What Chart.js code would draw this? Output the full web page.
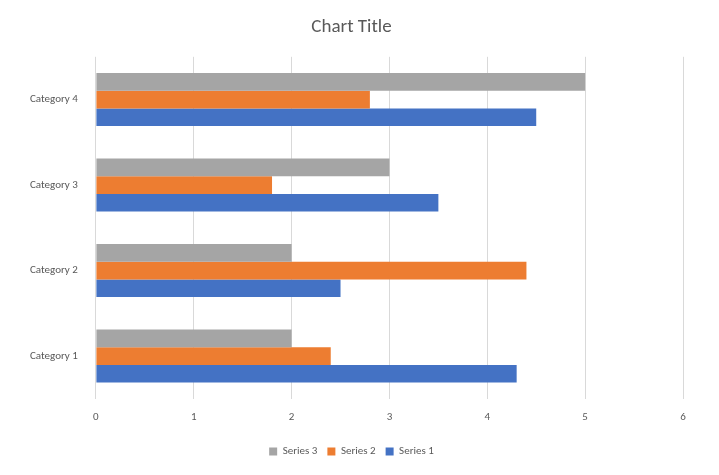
<!DOCTYPE html>
<html><head><meta charset="utf-8">
<script src="https://cdn.jsdelivr.net/npm/chart.js@4"></script>
<style>html,body{margin:0;padding:0;background:#fff}#w{width:719px;height:475px}</style>
</head><body><div id="w"><canvas id="c"></canvas></div>
<script>
const categories = ["Category 1","Category 2","Category 3","Category 4"];
const series1 = [4.3, 2.5, 3.5, 4.5];
const series2 = [2.4, 4.4, 1.8, 2.8];
const series3 = [2, 2, 3, 5];
const xTicks = [0,1,2,3,4,5,6];
Chart.defaults.font.family = "Calibri, Carlito, 'Liberation Sans', sans-serif";
Chart.defaults.color = "#595959";
new Chart(document.getElementById('c'), {
  type: 'bar',
  data: {
    labels: categories,
    datasets: [
      {label:'Series 3', data:series3, backgroundColor:'#a5a5a5'},
      {label:'Series 2', data:series2, backgroundColor:'#ed7d31'},
      {label:'Series 1', data:series1, backgroundColor:'#4472c4'}
    ]
  },
  options: {
    indexAxis: 'y', responsive: true, maintainAspectRatio: false, animation: false,
    layout: {padding: {left: 20, right: 36, top: 10, bottom: 8}},
    datasets: {bar: {categoryPercentage: 0.62, barPercentage: 1}},
    plugins: {
      title: {display: true, text: 'Chart Title', font: {size: 19, weight: 'normal'}, color: '#595959', padding: {top: 6, bottom: 18}},
      legend: {position: 'bottom', labels: {boxWidth: 8, boxHeight: 8, font: {size: 11}, padding: 10}},
      tooltip: {enabled: false}
    },
    scales: {
      x: {min: 0, max: 6, afterBuildTicks: a => { a.ticks = xTicks.map(v => ({value: v})); },
          grid: {color: '#d9d9d9', drawTicks: false}, border: {display: false},
          ticks: {font: {size: 11}, padding: 12}},
      y: {reverse: true, grid: {display: false}, border: {display: false},
          ticks: {font: {size: 11}, padding: 10}}
    }
  }
});
</script></body></html>
